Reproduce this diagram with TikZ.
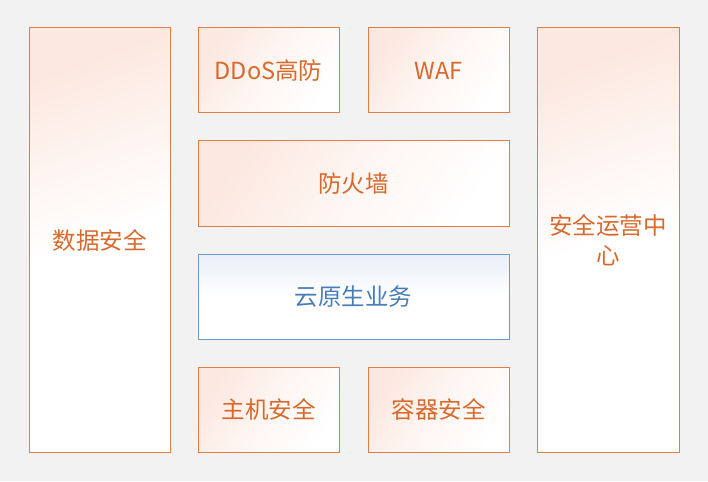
\documentclass[tikz,border=0pt]{standalone}
\usepackage{fontspec}
\newfontfamily\cjk{Noto Sans CJK SC}
\definecolor{secorange}{HTML}{D8692C}
\definecolor{secline}{HTML}{E07E42}
\definecolor{secpink}{HTML}{FCE8E0}
\definecolor{bizblue}{HTML}{4A7DB8}
\definecolor{bizline}{HTML}{6E9BCB}
\definecolor{bizpale}{HTML}{E8EEF8}
\definecolor{canvas}{HTML}{F2F2F2}
\tikzset{
  secbox/.style={draw=secline, line width=1pt, top color=secpink, bottom color=white,
    middle color=secpink!40!white, shading angle=55, text=secorange,
    font=\cjk\fontsize{23.5}{30}\selectfont,
    minimum width=141pt, minimum height=85pt, align=center, inner sep=0pt},
  bizbox/.style={secbox, draw=bizline, top color=bizpale, bottom color=white,
    middle color=white, text=bizblue, minimum width=311pt},
  tallbox/.style={secbox, minimum height=424pt, text width=130pt,
    middle color=white, shading angle=20}
}
\begin{document}
\begin{tikzpicture}[x=1pt,y=-1pt]
   \fill[canvas] (0,0) rectangle (708,481);
   \useasboundingbox (0,0) rectangle (708,481);

   % left and right columns
   \node[tallbox] (data) at (99.5,240) {数据安全};
   \node[tallbox, minimum width=142pt] (soc) at (608,240) {安全运营中\\心};

   % top row
   \node[secbox] (ddos) at (268.5,70.5) {DDoS高防};
   \node[secbox] (waf) at (438.5,70.5) {WAF};

   % middle layers
   \node[secbox, minimum width=311pt] (firewall) at (353.5,183.5) {防火墙};
   \node[bizbox] (cloud) at (353.5,296.5) {云原生业务};

   % bottom row
   \node[secbox] (host) at (268.5,409.5) {主机安全};
   \node[secbox] (container) at (438.5,409.5) {容器安全};
 \end{tikzpicture}
\end{document}
